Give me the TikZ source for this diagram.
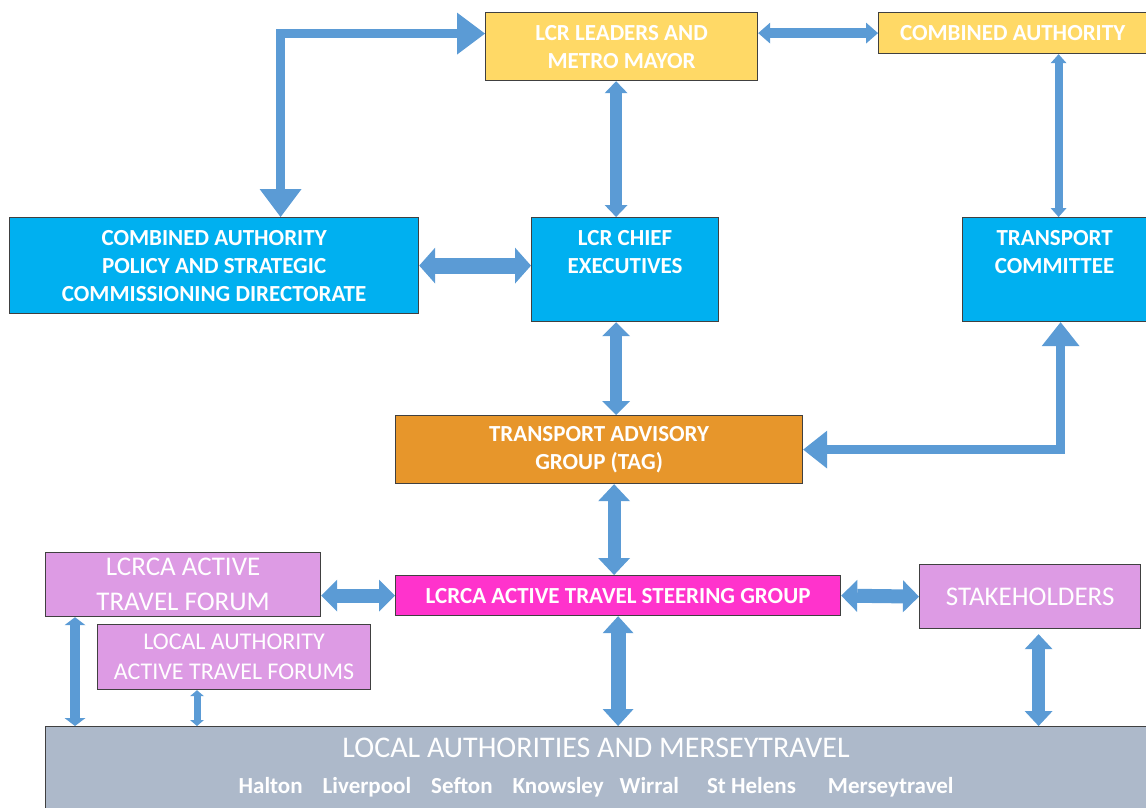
\documentclass[tikz,border=0pt]{standalone}
\usepackage{fontspec}
\setmainfont{Carlito}
\usetikzlibrary{arrows.meta}

\definecolor{goldfill}{HTML}{FFD966}
\definecolor{bluefill}{HTML}{00B0F0}
\definecolor{orangefill}{HTML}{E7962B}
\definecolor{magentafill}{HTML}{FF33CC}
\definecolor{pinkfill}{HTML}{DD9BE4}
\definecolor{greyfill}{HTML}{ADB9CA}
\definecolor{linkblue}{HTML}{5B9BD5}
\definecolor{boxline}{HTML}{404040}

\begin{document}
\begin{tikzpicture}[x=1pt,y=-1pt,
  every node/.style={anchor=north west,inner sep=0pt,align=center,text=white},
  box/.style={draw=boxline,line width=1.2pt},
  gold box/.style={box,fill=goldfill,font=\bfseries\fontsize{23}{28}\selectfont},
  blue box/.style={box,fill=bluefill,font=\bfseries\fontsize{23}{28}\selectfont},
  pink box/.style={box,fill=pinkfill},
  link/.style n args={3}{draw=linkblue,line width=#1pt,
    arrows={Triangle[length=#3pt,width=#2pt,line width=0pt]-Triangle[length=#3pt,width=#2pt,line width=0pt]}}]

  \useasboundingbox (0,0) rectangle (1146,808);

  % top row
  \node[gold box,minimum width=272,minimum height=68] (lead) at (485,12) {LCR LEADERS AND\\METRO MAYOR};
  \node[gold box,minimum width=268,minimum height=41] (ca) at (878,12) {COMBINED AUTHORITY};

  % blue boxes
  \node[blue box,minimum width=409,minimum height=96] (policy) at (9,217)
    {COMBINED AUTHORITY\\POLICY AND STRATEGIC\\COMMISSIONING DIRECTORATE};
  \node[blue box,minimum width=187,minimum height=104] (chief) at (531,217) {LCR CHIEF\\EXECUTIVES\\[8pt]~};
  \node[blue box,minimum width=184,minimum height=104] (tc) at (962,217) {TRANSPORT\\COMMITTEE\\[8pt]~};

  \node[box,fill=orangefill,minimum width=407,minimum height=68,
    font=\bfseries\fontsize{23}{28}\selectfont] (tag) at (395,415) {TRANSPORT ADVISORY\\GROUP (TAG)};

  % active travel row
  \node[box,fill=magentafill,minimum width=445,minimum height=40,
    font=\bfseries\fontsize{23}{28}\selectfont] (steer) at (395,575) {LCRCA ACTIVE TRAVEL STEERING GROUP};
  \node[pink box,minimum width=275,minimum height=64,font=\fontsize{27}{35}\selectfont] (forum) at (45,552)
    {LCRCA ACTIVE\\TRAVEL FORUM};
  \node[pink box,minimum width=273,minimum height=65,font=\fontsize{24}{30}\selectfont] (laforums) at (97,624)
    {LOCAL AUTHORITY\\ACTIVE TRAVEL FORUMS};
  \node[pink box,minimum width=221,minimum height=64,font=\fontsize{27}{35}\selectfont] (stake) at (919,564)
    {STAKEHOLDERS};

  \node[box,fill=greyfill,minimum width=1101,minimum height=82,font=\fontsize{30}{38}\selectfont] (la) at (45,726)
    {LOCAL AUTHORITIES AND MERSEYTRAVEL\\[-2pt]
     {\bfseries\fontsize{23}{28}\selectfont Halton\hspace{20pt}Liverpool\hspace{20pt}Sefton\hspace{20pt}Knowsley\hspace{16pt}Wirral\hspace{28pt}St Helens\hspace{32pt}Merseytravel}};

  % connectors
  \draw[link={9}{42}{28}] ([xshift=66.5]policy.north) |- ([yshift=13]lead.west);
  \draw[link={10}{21}{12}] (lead.east |- ca.west) -- (ca.west);
  \draw[link={12}{23}{12}] ([xshift=-9]chief.north) -- ([xshift=-9]chief.north |- lead.south);
  \draw[link={8}{16}{9}] ([xshift=4]tc.north) -- ([xshift=4]tc.north |- ca.south);
  \draw[link={16}{36}{16}] (policy.east) -- (policy.east -| chief.west);
  \draw[link={12}{28}{14}] ([xshift=-9]chief.south) -- ([xshift=-9]chief.south |- tag.north);
  \draw[link={9}{38}{24}] ([xshift=6]tc.south) |- (tag.east);
  \draw[link={13}{32}{17}] ([xshift=-4]steer.north) -- ([xshift=-4]steer.north |- tag.south);
  \draw[link={14}{32}{16}] (steer.west -| forum.east) -- (steer.west);
  \draw[link={14}{32}{16}] (steer.east) -- (stake.west);
  \draw[link={15}{31}{17}] (steer.south) -- (steer.south |- la.north);
  \draw[link={13}{28}{15}] ([xshift=8.5,yshift=-5]stake.south) -- ([xshift=8.5]stake.south |- la.north);
  \draw[link={10}{21}{8}] ([xshift=30]forum.south west) -- ([xshift=30]forum.south west |- la.north);
  \draw[link={7}{14}{6}] ([xshift=100]laforums.south west) -- ([xshift=100]laforums.south west |- la.north);
\end{tikzpicture}
\end{document}
